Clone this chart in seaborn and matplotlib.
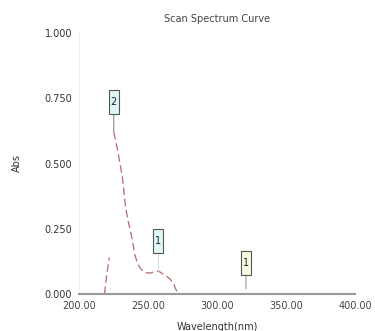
import matplotlib
matplotlib.use("Agg")
import matplotlib.pyplot as plt
from matplotlib.path import Path
import seaborn as sns
import pandas as pd

# Data
seg1_wl = [218.5, 220.0, 222.0]
seg1_abs = [0.0, 0.07, 0.14]
seg2_wl = [225.2, 228.0, 231.4, 233.8, 236.0, 238.5, 240.5, 242.5, 245.0, 248.0, 251.8, 255.0, 257.6, 260.5, 263.5, 266.2, 268.5, 270.0, 271.5]
seg2_abs = [0.62, 0.55, 0.45, 0.33, 0.27, 0.21, 0.15, 0.115, 0.095, 0.082, 0.08, 0.086, 0.088, 0.078, 0.068, 0.056, 0.04, 0.02, 0.005]

peak_labels = ["2", "1", "1"]
peak_wl = [225.2, 257.6, 321.0]
peak_abs = [0.62, 0.08, 0.02]
peak_colors = ["#dff6f6", "#dff6f6", "#fbfbe2"]
peak_offsets = [21.5, 23.0, 18.5]
peak_line_colors = ["#777777", "#d8d8d8", "#888888"]

xticks = [200, 250, 300, 350, 400]
xtick_labels = ["200.00", "250.00", "300.00", "350.00", "400.00"]
yticks = [0.0, 0.25, 0.5, 0.75, 1.0]
ytick_labels = ["0.000", "0.250", "0.500", "0.750", "1.000"]

df = pd.DataFrame({
    "wl": seg1_wl + seg2_wl,
    "abs": seg1_abs + seg2_abs,
    "seg": [0] * len(seg1_wl) + [1] * len(seg2_wl),
})

sns.set_style("white")
plt.rcParams["font.family"] = ["DejaVu Sans"]

fig = plt.figure(figsize=(3.75, 3.31), dpi=100)
ax = fig.add_axes([79 / 375, 1 - 294 / 331, (355 - 79) / 375, (294 - 33) / 331])

sns.lineplot(data=df, x="wl", y="abs", units="seg", estimator=None, ax=ax,
             color="#b86868", linewidth=0.9, linestyle=(0, (6, 3)))


def tall_box(x0, y0, width, height, mutation_size):
    cx = x0 + width / 2
    cy = y0 + height / 2
    hw = 5.0
    hh = 12.0
    return Path([(cx - hw, cy - hh), (cx + hw, cy - hh), (cx + hw, cy + hh),
                 (cx - hw, cy + hh), (cx - hw, cy - hh)],
                [Path.MOVETO, Path.LINETO, Path.LINETO, Path.LINETO, Path.CLOSEPOLY])


for lab, wl, ab, col, off, lc in zip(peak_labels, peak_wl, peak_abs, peak_colors,
                                     peak_offsets, peak_line_colors):
    ax.annotate(lab, xy=(wl, ab), xytext=(0, off), textcoords="offset points",
                ha="center", va="center", fontsize=7, color="#222222",
                bbox=dict(boxstyle=tall_box, fc=col, ec="#555555", lw=0.8),
                arrowprops=dict(arrowstyle="-", color=lc, lw=0.7, shrinkA=0, shrinkB=0))

ax.set_xlim(200, 400)
ax.set_ylim(0, 1.0)
ax.set_xticks(xticks)
ax.set_xticklabels(xtick_labels)
ax.set_yticks(yticks)
ax.set_yticklabels(ytick_labels)
ax.tick_params(axis="x", direction="in", length=4, color="#888888", labelsize=7,
               labelcolor="#444444", pad=5)
ax.tick_params(axis="y", direction="out", length=3, color="#aaaaaa", labelsize=7,
               labelcolor="#333333", pad=2)

for s in ["top", "right"]:
    ax.spines[s].set_visible(False)
ax.spines["left"].set_color("#eeeeee")
ax.spines["left"].set_linewidth(0.8)
ax.spines["bottom"].set_color("#999999")
ax.spines["bottom"].set_linewidth(1.5)

ax.set_title("Scan Spectrum Curve", fontsize=7, color="#444444", pad=8)
ax.set_xlabel("Wavelength(nm)", fontsize=7, color="#333333", labelpad=8)
ax.set_ylabel("Abs", fontsize=7, color="#333333", labelpad=16)

fig.savefig("out.png", dpi=100)
